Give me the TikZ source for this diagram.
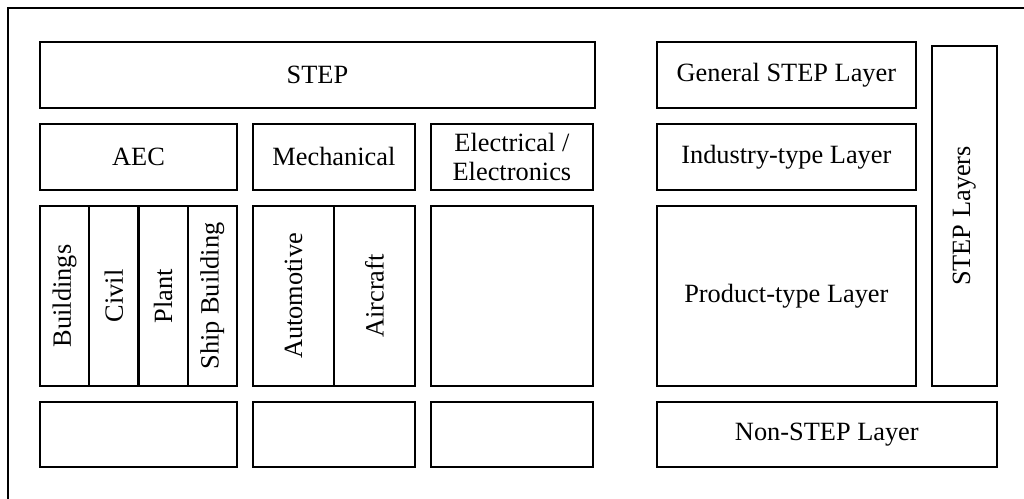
\documentclass[tikz,border=0pt]{standalone}
\usepackage{fontspec}
\setmainfont{Liberation Serif}
\usepackage{tikz}
\usetikzlibrary{positioning}
\tikzset{
  layer/.style n args={2}{draw,line width=1.2pt,outer sep=0pt,inner sep=2pt,align=center,
              font=\fontsize{15}{17}\selectfont,minimum width=#1,minimum height=#2},
  sub/.style={layer={#1}{3.6cm}},
  frame/.style={draw,line width=1pt},
}

\begin{document}
\begin{tikzpicture}[x=0.02cm,y=-0.02cm,node distance=3.2mm and 3.2mm]
  \useasboundingbox (0,0) rectangle (1024,499);
  \clip (0,0) rectangle (1024,499);
  \draw[frame] (8,8) rectangle (1040,520);
  % application domains
  \node[layer={11.1cm}{1.32cm}, anchor=north west] (step) at (40,42) {STEP};
  \node[layer={3.94cm}{1.32cm}, below=of step.south west, anchor=north west] (aec) {AEC};
  \node[layer={3.24cm}{1.32cm}, right=of aec] (mech) {Mechanical};
  \node[layer={3.24cm}{1.32cm}, right=of mech] (elec) {Electrical /\\ Electronics};
  \node[sub=0.985cm, below=of aec.south west, anchor=north west] (bld) {\rotatebox{90}{Buildings}};
  \node[sub=0.985cm, right=0pt of bld] (civil) {\rotatebox{90}{Civil}};
  \node[sub=0.985cm, right=0pt of civil] (plant) {\rotatebox{90}{Plant}};
  \node[sub=0.985cm, right=0pt of plant] (ship) {\rotatebox{90}{Ship Building}};
  \node[sub=1.62cm, below=of mech.south west, anchor=north west] (auto) {\rotatebox{90}{Automotive}};
  \node[sub=1.62cm, right=0pt of auto] (air) {\rotatebox{90}{Aircraft}};
  \node[sub=3.24cm, below=of elec] (elecsub) {};
  \node[layer={3.94cm}{1.3cm}, below=of bld.south west, anchor=north west] (aecnon) {};
  \node[layer={3.24cm}{1.3cm}, below=of auto.south west, anchor=north west] (mechnon) {};
  \node[layer={3.24cm}{1.3cm}, below=of elecsub] (elecnon) {};
  % layers
  \node[layer={5.18cm}{1.32cm}, right=12.4mm of step.north east, anchor=north west] (gen) {General STEP Layer};
  \node[layer={5.18cm}{1.32cm}, below=of gen] (ind) {Industry-type Layer};
  \node[layer={5.18cm}{3.6cm}, below=of ind] (prod) {Product-type Layer};
  \node[layer={1.3cm}{6.8cm}, right=of prod.south east, anchor=south west] (layers) {\rotatebox{90}{STEP Layers}};
  \node[layer={6.8cm}{1.3cm}, below=of prod.south west, anchor=north west] (non) {Non-STEP Layer};
\end{tikzpicture}
\end{document}
